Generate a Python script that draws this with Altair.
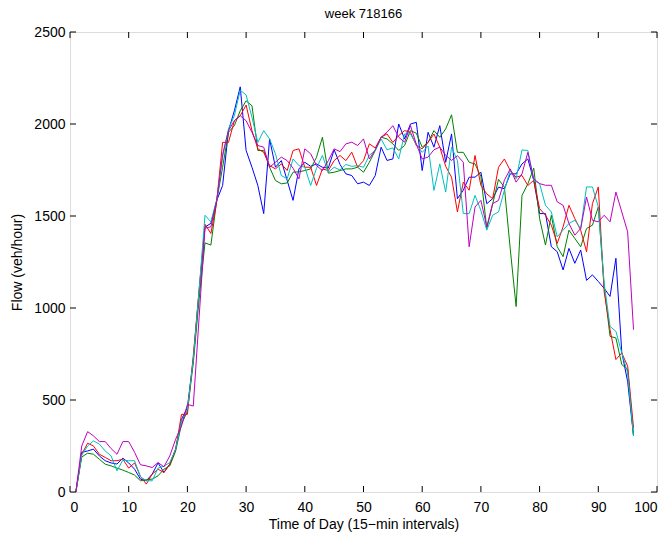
import altair as alt
import pandas as pd

# Flow per 15-minute interval for five days of the week
t = list(range(1, 97))

blue = [0, 216, 223, 233, 196, 170, 158, 152, 184, 158, 124, 70, 61, 97, 158, 106, 151, 233, 395, 460,
        720, 1090, 1440, 1460, 1585, 1666, 1964, 2072, 2202, 1856, 1765, 1666, 1513, 1919, 1765, 1801, 1693, 1585, 1756, 1792,
        1770, 1783, 1765, 1760, 1860, 1780, 1729, 1720, 1675, 1684, 1666, 1720, 1874, 1802, 1810, 2000, 1919, 2000, 2009, 1747,
        1955, 1874, 1991, 1792, 1946, 1594, 1640, 1711, 1711, 1738, 1567, 1594, 1657, 1648, 1729, 1729, 1783, 1810, 1694, 1513,
        1513, 1333, 1306, 1207, 1324, 1243, 1315, 1150, 1180, 1144, 1107, 1063, 1270, 760, 600, 305]

green = [0, 190, 211, 205, 178, 151, 142, 130, 119, 106, 92, 61, 67, 70, 88, 124, 142, 223, 368, 440,
         700, 1050, 1354, 1342, 1585, 1765, 1955, 1991, 2072, 2126, 2099, 1856, 1856, 1765, 1693, 1675, 1680, 1738, 1740, 1747,
         1756, 1820, 1928, 1733, 1738, 1747, 1756, 1756, 1765, 1738, 1792, 1856, 1928, 1919, 1892, 1856, 1883, 1964, 1950, 1874,
         1900, 1964, 1928, 1973, 2050, 1846, 1846, 1792, 1783, 1715, 1432, 1565, 1699, 1657, 1320, 1008, 1612, 1675, 1760, 1486,
         1342, 1504, 1333, 1279, 1423, 1378, 1333, 1432, 1450, 1549, 1116, 846, 837, 693, 666, 305]

red = [0, 205, 265, 250, 205, 188, 170, 170, 178, 130, 158, 85, 43, 97, 124, 106, 151, 233, 422, 422,
       740, 1100, 1455, 1405, 1580, 1900, 1900, 2018, 2045, 2103, 1964, 1865, 1846, 1774, 1756, 1783, 1747, 1856, 1865, 1765,
       1765, 1666, 1756, 1747, 1801, 1829, 1801, 1847, 1765, 1801, 1892, 1870, 1928, 1946, 1900, 1937, 1964, 1955, 1883, 1865,
       1900, 1946, 1874, 1770, 1711, 1522, 1684, 1640, 1829, 1666, 1620, 1594, 1765, 1810, 1747, 1711, 1720, 1666, 1694, 1540,
       1504, 1450, 1351, 1441, 1558, 1486, 1423, 1306, 1567, 1658, 1089, 882, 720, 756, 684, 350]

cyan = [0, 200, 250, 278, 260, 223, 196, 115, 173, 170, 170, 83, 61, 61, 130, 140, 160, 233, 386, 449,
        720, 1100, 1504, 1468, 1590, 1820, 1973, 2045, 2184, 2158, 2036, 1900, 1964, 1919, 1838, 1720, 1702, 1810, 1774, 1765,
        1666, 1760, 1829, 1738, 1765, 1750, 1780, 1770, 1774, 1765, 1830, 1856, 1919, 1860, 1870, 1810, 1946, 1946, 1890, 1846,
        1880, 1639, 1783, 1630, 1874, 1802, 1513, 1513, 1612, 1530, 1423, 1504, 1522, 1640, 1747, 1702, 1859, 1856, 1694, 1676,
        1558, 1522, 1387, 1423, 1459, 1477, 1432, 1658, 1658, 1549, 1134, 900, 873, 756, 648, 305]

magenta = [0, 250, 328, 305, 274, 274, 236, 205, 274, 274, 216, 148, 142, 133, 160, 137, 196, 287, 359, 476,
           467, 950, 1434, 1441, 1585, 1835, 1964, 2018, 2045, 2018, 1955, 1883, 1874, 1765, 1792, 1820, 1801, 1760, 1702, 1865,
           1838, 1774, 1747, 1800, 1865, 1850, 1892, 1901, 1883, 1919, 1810, 1860, 1928, 1955, 1991, 1928, 1901, 1991, 1890, 1810,
           1820, 1860, 1874, 1830, 1802, 1828, 1792, 1333, 1549, 1585, 1441, 1567, 1585, 1694, 1756, 1684, 1729, 1846, 1702, 1676,
           1667, 1667, 1577, 1558, 1459, 1396, 1432, 1603, 1477, 1468, 1504, 1468, 1630, 1522, 1414, 882]

series_names = ["day 1", "day 2", "day 3", "day 4", "day 5"]
series_colors = ["#0000FF", "#008000", "#FF0000", "#00BFBF", "#BF00BF"]

x_ticks = [0, 10, 20, 30, 40, 50, 60, 70, 80, 90, 100]
y_ticks = [0, 500, 1000, 1500, 2000, 2500]

W, H = 587, 460
FONT = "Liberation Sans"

rows = []
for name, vals in zip(series_names, [blue, green, red, cyan, magenta]):
    for ti, v in zip(t, vals):
        rows.append({"t": ti, "flow": v, "series": name})
df = pd.DataFrame(rows)

x_scale = alt.Scale(domain=[0, 100], nice=False, zero=False)
y_scale = alt.Scale(domain=[0, 2500], nice=False)

lines = alt.Chart(df).mark_line(strokeWidth=1, clip=True).encode(
    x=alt.X("t:Q", scale=x_scale,
            axis=alt.Axis(values=x_ticks, format="d", tickSize=0, grid=False, domain=False,
                          labelPadding=8, labelFontSize=14, labelFont=FONT, labelColor="black",
                          title="Time of Day (15\u2212min intervals)", titleFont=FONT,
                          titleFontSize=14, titleFontWeight="normal", titleColor="black",
                          titlePadding=3)),
    y=alt.Y("flow:Q", scale=y_scale,
            axis=alt.Axis(values=y_ticks, format="d", tickSize=0, grid=False, domain=False,
                          labelPadding=5, labelFontSize=14, labelFont=FONT, labelColor="black",
                          title="Flow (veh/hour)", titleFont=FONT, titleFontSize=14,
                          titleFontWeight="normal", titleColor="black", titlePadding=9)),
    color=alt.Color("series:N", scale=alt.Scale(domain=series_names, range=series_colors), legend=None),
)

xt = pd.DataFrame({"v": x_ticks})
yt = pd.DataFrame({"v": y_ticks})
TL = 6

bottom_ticks = alt.Chart(xt).mark_rule(color="black", strokeWidth=1).encode(
    x=alt.X("v:Q", scale=x_scale), y=alt.value(H), y2=alt.value(H - TL))
top_ticks = alt.Chart(xt).mark_rule(color="black", strokeWidth=1).encode(
    x=alt.X("v:Q", scale=x_scale), y=alt.value(0), y2=alt.value(TL))
left_ticks = alt.Chart(yt).mark_rule(color="black", strokeWidth=1).encode(
    y=alt.Y("v:Q", scale=y_scale), x=alt.value(0), x2=alt.value(TL))
right_ticks = alt.Chart(yt).mark_rule(color="black", strokeWidth=1).encode(
    y=alt.Y("v:Q", scale=y_scale), x=alt.value(W), x2=alt.value(W - TL))

chart = alt.layer(lines, bottom_ticks, top_ticks, left_ticks, right_ticks).properties(
    width=W, height=H,
    title=alt.Title("week 718166", font=FONT, fontSize=13, fontWeight="normal", color="black",
                    frame="group", offset=4),
    autosize=alt.AutoSizeParams(type="none"),
    padding={"left": 70, "top": 32, "right": 14, "bottom": 43},
).configure_view(stroke="black", strokeWidth=1).configure(background="white")

chart.save("out.html", embed_options={"renderer": "svg", "actions": False})
